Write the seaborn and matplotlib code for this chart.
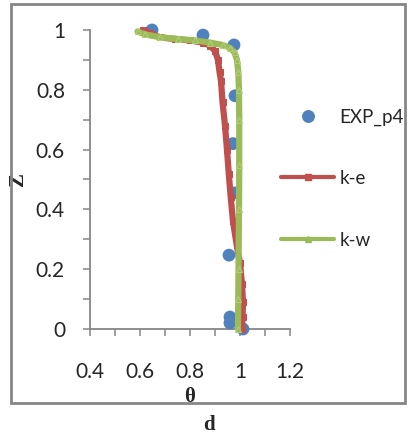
import matplotlib
matplotlib.use("Agg")
import matplotlib.pyplot as plt
import seaborn as sns
from matplotlib.lines import Line2D
from matplotlib.patches import Rectangle
from matplotlib.ticker import MultipleLocator

# Data
exp_theta = [0.648, 0.852, 0.976, 0.98, 0.972, 0.98, 0.956, 0.96, 0.96, 1.012]
exp_z = [1.0, 0.983, 0.95, 0.78, 0.62, 0.455, 0.247, 0.04, 0.02, 0.0]

ke_theta = [0.61, 0.64, 0.68, 0.74, 0.80, 0.85, 0.88, 0.90, 0.912, 0.918, 0.924, 0.93,
            0.94, 0.948, 0.955, 0.963, 0.972, 0.987, 1.0, 1.008, 1.012, 1.01, 1.008]
ke_z = [1.0, 0.99, 0.975, 0.97, 0.965, 0.958, 0.948, 0.93, 0.90, 0.86, 0.83, 0.76,
        0.68, 0.60, 0.52, 0.44, 0.36, 0.28, 0.22, 0.15, 0.09, 0.04, 0.0]

kw_theta = [0.59, 0.62, 0.68, 0.75, 0.82, 0.88, 0.93, 0.96, 0.978, 0.988, 0.993, 0.996,
            0.997, 0.997, 0.996, 0.994, 0.993, 0.992]
kw_z = [0.995, 0.985, 0.976, 0.97, 0.965, 0.958, 0.95, 0.94, 0.925, 0.90, 0.86, 0.80,
        0.70, 0.55, 0.40, 0.20, 0.10, 0.0]

x_ticks = [0.4, 0.6, 0.8, 1.0, 1.2]
x_labels = ["0.4", "0.6", "0.8", "1", "1.2"]
y_ticks = [0, 0.2, 0.4, 0.6, 0.8, 1.0]
y_labels = ["0", "0.2", "0.4", "0.6", "0.8", "1"]

blue = "#4F81BD"
red = "#C0504D"
green = "#9BBB59"
grey = "#868686"

sns.set_style("white")
plt.rcParams['font.family'] = ['Lato', 'DejaVu Sans']

fig = plt.figure(figsize=(4.09, 4.36), dpi=100)
ax = fig.add_axes([90/409, 1-329/436, 200/409, 299/436])

sns.scatterplot(x=exp_theta, y=exp_z, ax=ax, color=blue, s=85, edgecolor="none",
                zorder=3, clip_on=False, legend=False)
sns.lineplot(x=ke_theta, y=ke_z, ax=ax, sort=False, estimator=None, color=red,
             lw=4.5, marker="s", markersize=5, markeredgecolor=red, zorder=4, clip_on=False)
sns.lineplot(x=kw_theta, y=kw_z, ax=ax, sort=False, estimator=None, color=green,
             lw=4.5, marker="^", markersize=5, markeredgecolor="#B3CC7A", zorder=5,
             clip_on=False)

ax.set_xlim(0.4, 1.2)
ax.set_ylim(0, 1)
ax.set_xticks(x_ticks)
ax.set_xticklabels(x_labels)
ax.set_yticks(y_ticks)
ax.set_yticklabels(y_labels)
ax.xaxis.set_minor_locator(MultipleLocator(0.1))
ax.yaxis.set_minor_locator(MultipleLocator(0.1))
for s in ["top", "right"]:
    ax.spines[s].set_visible(False)
for s in ["left", "bottom"]:
    ax.spines[s].set_color(grey)
    ax.spines[s].set_linewidth(1.3)
ax.tick_params(axis="both", which="both", direction="out", color=grey, width=1.1,
               length=5, labelsize=15, bottom=True, left=True)
ax.tick_params(axis="x", which="major", pad=19)
ax.tick_params(axis="y", which="major", pad=13)

ax.set_xlabel("θ", fontsize=15, fontweight="bold", family="Liberation Serif")
ax.xaxis.set_label_coords(0.5, -0.195)
ax.set_ylabel("Z", fontsize=15, fontweight="bold", family="Liberation Serif", rotation=90)
ax.yaxis.set_label_coords(-0.31, 0.5)

# legends
fs = 13.5
h_exp = Line2D([], [], color=blue, marker="o", linestyle="none", markersize=9.3,
               markeredgecolor="none")
h_ke = Line2D([], [], color=red, lw=3, marker="s", markersize=5)
h_kw = Line2D([], [], color=green, lw=3, marker="^", markersize=5)
fig.legend(handles=[h_exp], labels=["EXP_p4"], loc="center left",
           bbox_to_anchor=(298.5/409, 1-117/436), frameon=False, fontsize=fs,
           handlelength=1.0, handletextpad=1.15, borderpad=0, borderaxespad=0)
fig.legend(handles=[h_ke], labels=["k-e"], loc="center left",
           bbox_to_anchor=(281/409, 1-178/436), frameon=False, fontsize=fs,
           handlelength=2.83, handletextpad=0.32, borderpad=0, borderaxespad=0)
fig.legend(handles=[h_kw], labels=["k-w"], loc="center left",
           bbox_to_anchor=(281/409, 1-240/436), frameon=False, fontsize=fs,
           handlelength=2.83, handletextpad=0.32, borderpad=0, borderaxespad=0)

# outer box
fig.patches.append(Rectangle((11/409, 1-403/436), 394/409, 399/436, transform=fig.transFigure,
                             fill=False, edgecolor=grey, linewidth=2))

fig.text(209/409, 1-425/436, "d", ha="center", va="center", fontsize=15,
         fontweight="bold", family="Liberation Serif")

fig.savefig("out.png", dpi=100)
